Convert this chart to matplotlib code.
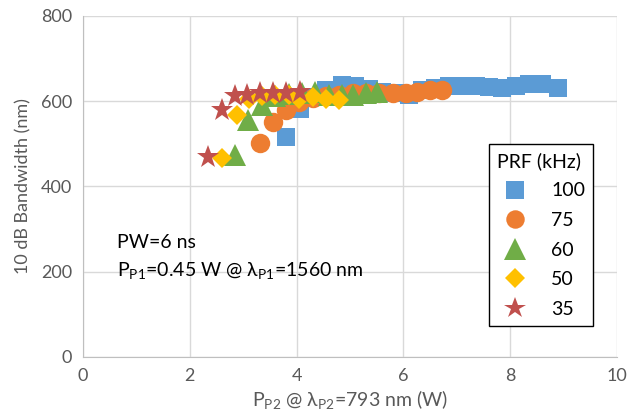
import matplotlib
matplotlib.use('Agg')
import matplotlib.pyplot as plt
from matplotlib.lines import Line2D

plt.rcParams['font.family'] = ['Lato', 'DejaVu Sans']
plt.rcParams['mathtext.fontset'] = 'custom'
plt.rcParams['mathtext.rm'] = 'Lato'
plt.rcParams['mathtext.it'] = 'Lato:italic'

# PRF 100 kHz
x_100 = [3.81, 4.06, 4.3, 4.55, 4.85, 5.1, 5.35, 5.6, 5.85, 6.1, 6.35, 6.6, 6.85,
         7.1, 7.35, 7.6, 7.85, 8.1, 8.35, 8.6, 8.9]
y_100 = [516, 582, 610, 625, 638, 635, 628, 622, 618, 615, 625, 632, 635,
         635, 635, 633, 632, 635, 640, 640, 632]
# PRF 75 kHz
x_75 = [3.31, 3.55, 3.8, 4.05, 4.3, 4.55, 4.8, 5.05, 5.3, 5.55, 5.8, 6.05, 6.25, 6.5, 6.73]
y_75 = [502, 552, 580, 598, 608, 612, 615, 618, 620, 620, 620, 618, 622, 625, 627]
# PRF 60 kHz
x_60 = [2.84, 3.08, 3.35, 3.6, 3.85, 4.1, 4.35, 4.6, 4.85, 5.05, 5.3, 5.5]
y_60 = [474, 556, 592, 612, 617, 620, 622, 615, 615, 615, 620, 622]
# PRF 50 kHz
x_50 = [2.6, 2.88, 3.1, 3.35, 3.6, 3.85, 4.05, 4.3, 4.55, 4.8]
y_50 = [467, 568, 605, 612, 615, 615, 605, 610, 605, 603]
# PRF 35 kHz
x_35 = [2.34, 2.6, 2.84, 3.07, 3.31, 3.55, 3.81, 4.06]
y_35 = [469, 579, 611, 615, 620, 620, 620, 622]

labels = ['100', '75', '60', '50', '35']
colors = ['#5B9BD5', '#ED7D31', '#70AD47', '#FFC000', '#C0504D']
markers = ['s', 'o', '^', 'D', '*']
sizes = [13, 14, 16, 10.5, 17]

fig = plt.figure(figsize=(6.29, 4.18), dpi=100)
ax = fig.add_axes([0.132, 0.146, 0.849, 0.816])

series = [(x_100, y_100), (x_75, y_75), (x_60, y_60), (x_50, y_50), (x_35, y_35)]
for (xs, ys), lab, c, m, ms in zip(series, labels, colors, markers, sizes):
    ax.plot(xs, ys, linestyle='none', marker=m, markersize=ms, color=c,
            markeredgewidth=0, label=lab, clip_on=False)

ax.set_xlim(0, 10)
ax.set_ylim(0, 800)
ax.set_xticks([0, 2, 4, 6, 8, 10])
ax.set_yticks([0, 200, 400, 600, 800])
ax.grid(True, color='#d9d9d9', linewidth=1)
ax.set_axisbelow(True)
for s in ['top', 'right']:
    ax.spines[s].set_visible(False)
for s in ['left', 'bottom']:
    ax.spines[s].set_color('#bfbfbf')
ax.tick_params(length=0, labelsize=13, colors='#595959', pad=8)

ax.set_ylabel('10 dB Bandwidth (nm)', fontsize=13, color='#595959', labelpad=7)
ax.set_xlabel(r'P$_\mathregular{P2}$ @ λ$_\mathregular{P2}$=793 nm (W)',
              fontsize=14, color='#595959', labelpad=3)

ax.text(0.64, 268, 'PW=6 ns', fontsize=14, va='center')
ax.text(0.64, 203, r'P$_\mathregular{P1}$=0.45 W @ λ$_\mathregular{P1}$=1560 nm',
        fontsize=14, va='center')

handles = [Line2D([], [], linestyle='none', marker=m, markersize=ms * 0.95, color=c,
                  markeredgewidth=0) for c, m, ms in zip(colors, markers, sizes)]
leg = ax.legend(handles, labels, title='PRF (kHz)', loc='upper left',
                bbox_to_anchor=(489 / 629, 1 - 144 / 418), bbox_transform=fig.transFigure,
                frameon=True, fancybox=False, edgecolor='black', framealpha=1,
                fontsize=14, title_fontsize=14, handletextpad=0.9, labelspacing=0.65,
                borderpad=0.4, alignment='left', handlelength=1.9, borderaxespad=0)
leg.get_frame().set_linewidth(1)

fig.savefig('out.png', dpi=100)
